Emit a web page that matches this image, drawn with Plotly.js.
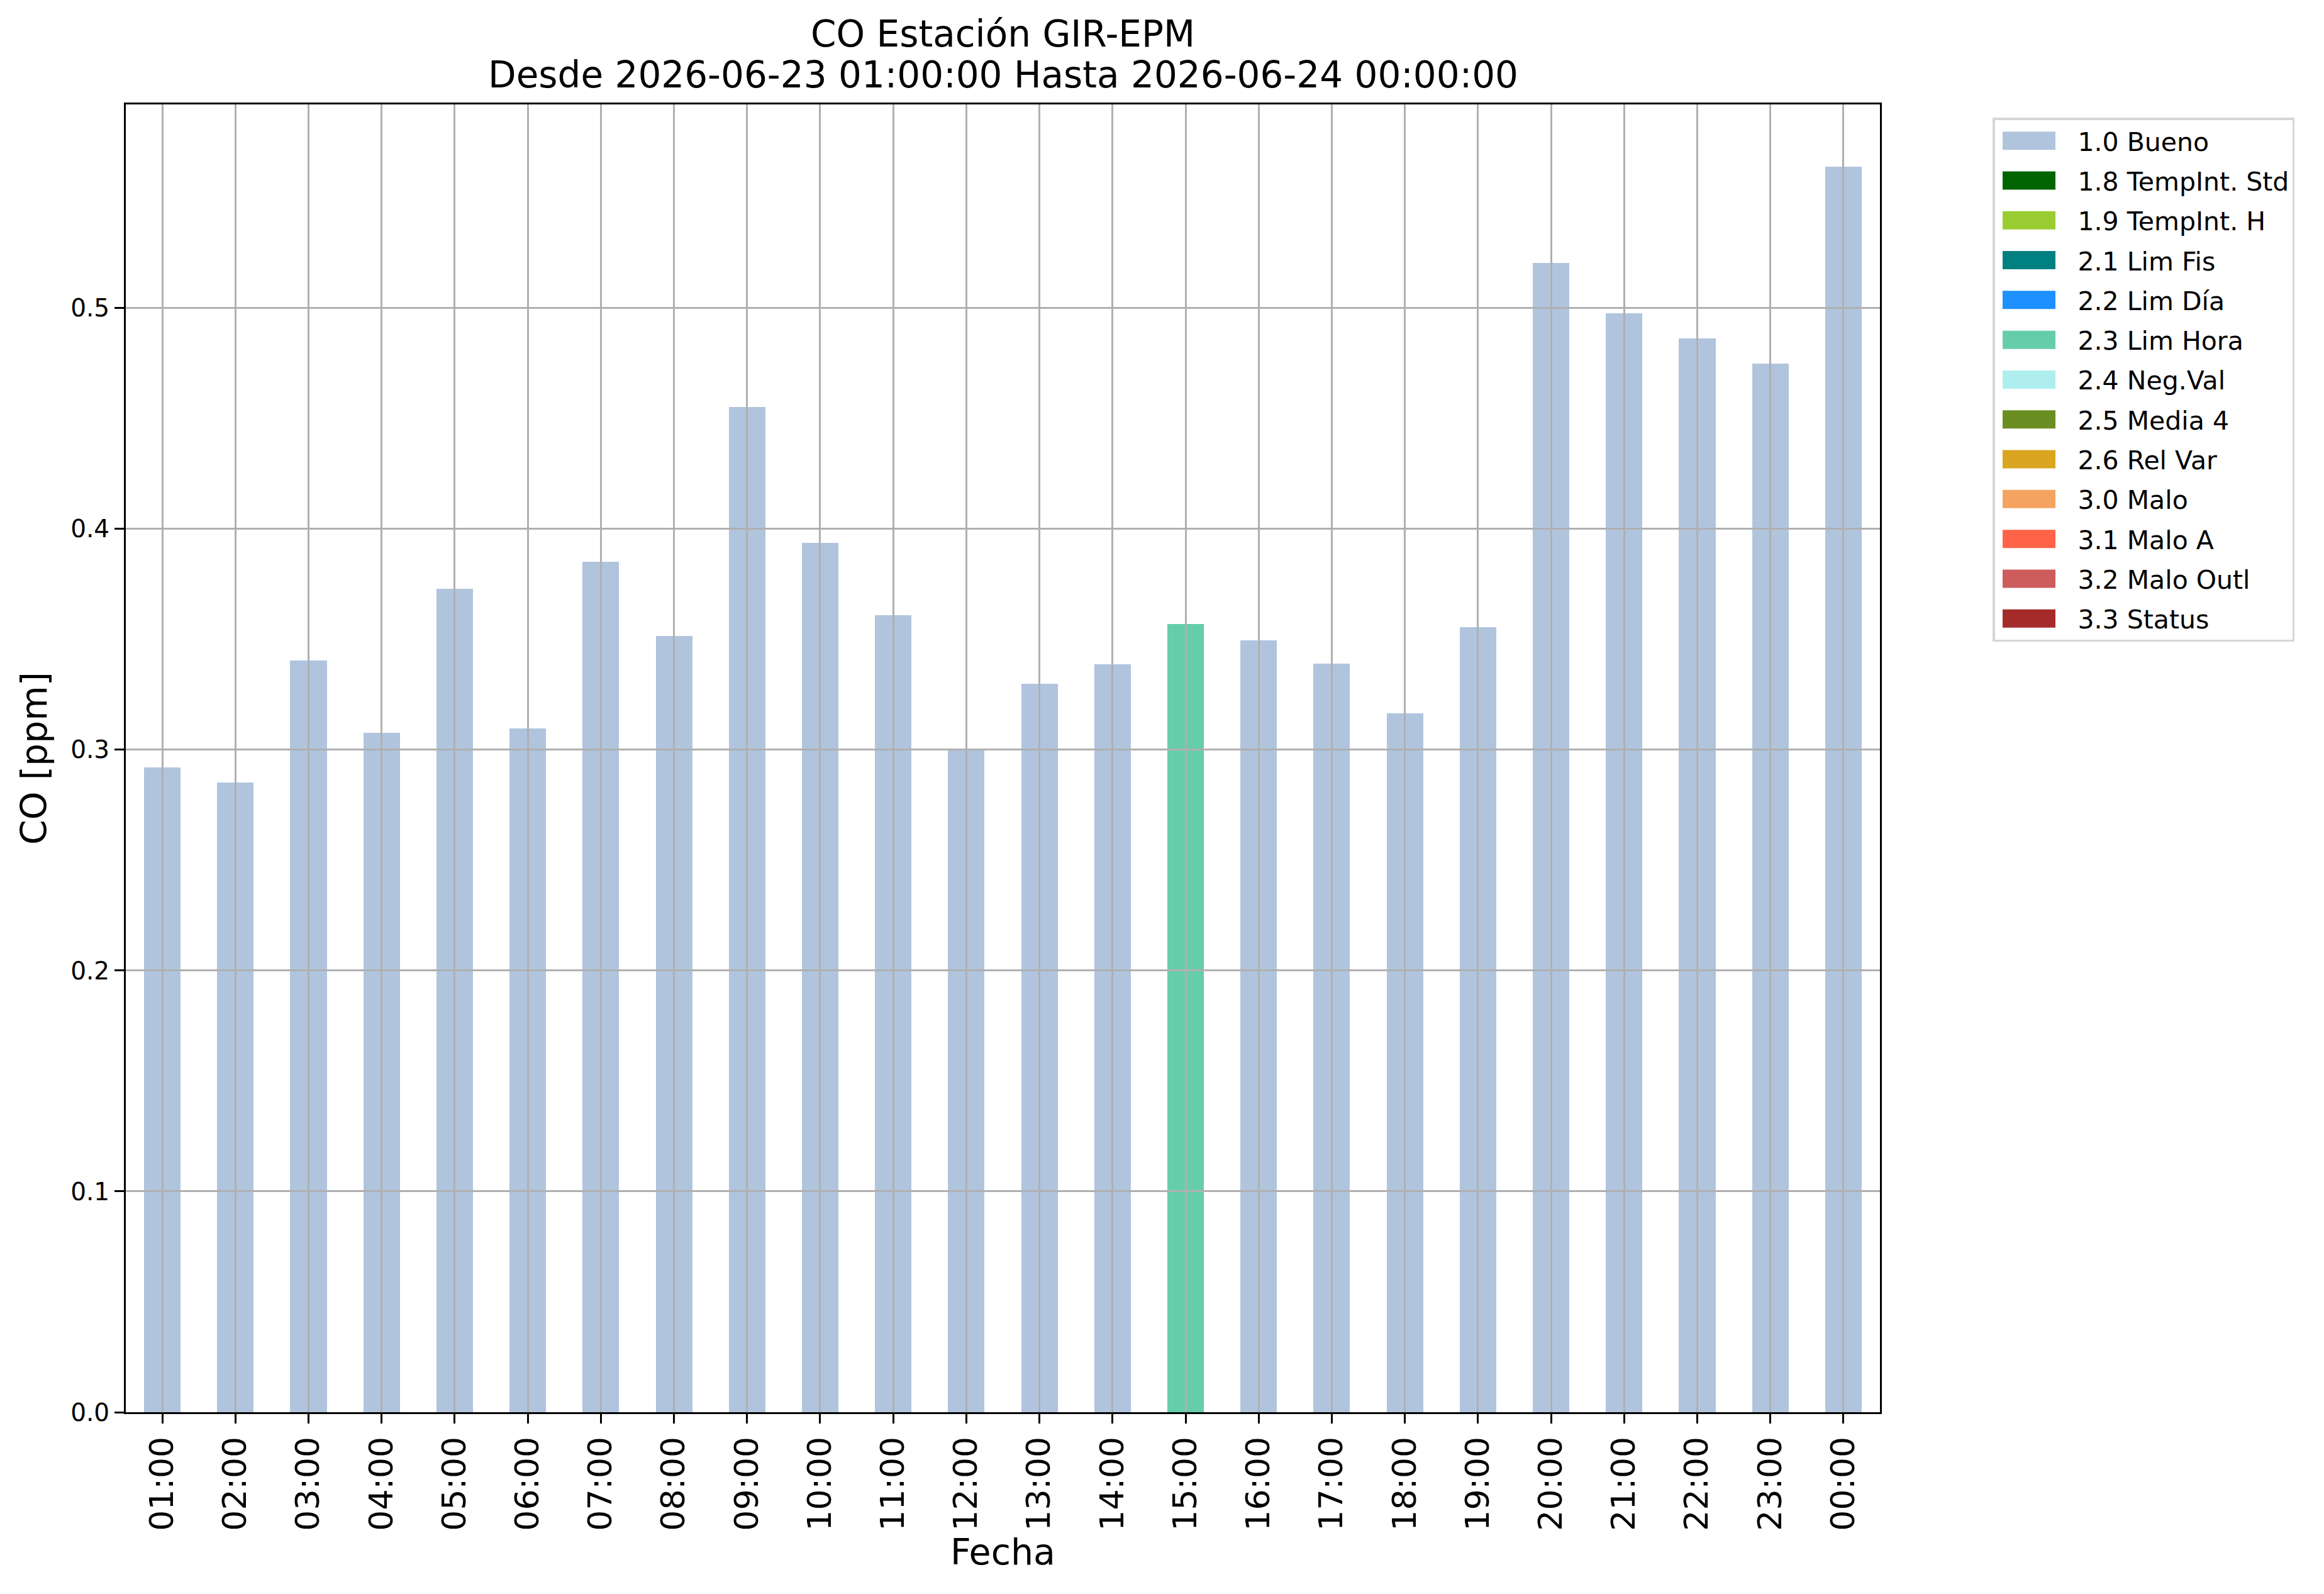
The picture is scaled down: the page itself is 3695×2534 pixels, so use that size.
<!DOCTYPE html>
<html>
<head>
<meta charset="utf-8">
<script src="https://cdn.plot.ly/plotly-3.0.1.min.js"></script>
<style>body { margin: 0; background: #fff; }</style>
</head>
<body>
<div id="co-plot" style="width:3695px;height:2534px"></div>
<script>
/* CO hourly means, GIR-EPM station, coloured by validation flag */
var horas = ['01:00', '02:00', '03:00', '04:00', '05:00', '06:00', '07:00', '08:00',
             '09:00', '10:00', '11:00', '12:00', '13:00', '14:00', '15:00', '16:00',
             '17:00', '18:00', '19:00', '20:00', '21:00', '22:00', '23:00', '00:00'];
var co = [0.292, 0.285, 0.3405, 0.3076, 0.3729, 0.3097, 0.3852, 0.3515,
          0.4553, 0.3937, 0.3609, 0.3005, 0.3299, 0.3387, 0.357, 0.3496,
          0.339, 0.3166, 0.3556, 0.5203, 0.4977, 0.4861, 0.4749, 0.564];
var banderas = [1.0, 1.0, 1.0, 1.0, 1.0, 1.0, 1.0, 1.0, 1.0, 1.0, 1.0, 1.0,
                1.0, 1.0, 2.3, 1.0, 1.0, 1.0, 1.0, 1.0, 1.0, 1.0, 1.0, 1.0];

var codigos = [1.0, 1.8, 1.9, 2.1, 2.2, 2.3, 2.4, 2.5, 2.6, 3.0, 3.1, 3.2, 3.3];
var nombres = ['1.0 Bueno', '1.8 TempInt. Std', '1.9 TempInt. H', '2.1 Lim Fis',
               '2.2 Lim Día', '2.3 Lim Hora', '2.4 Neg.Val', '2.5 Media 4',
               '2.6 Rel Var', '3.0 Malo', '3.1 Malo A', '3.2 Malo Outl', '3.3 Status'];
var colores = ['#b0c4de', '#006400', '#9acd32', '#008080', '#1e90ff', '#66cdaa',
               '#afeeee', '#6b8e23', '#daa520', '#f4a460', '#ff6347', '#cd5c5c', '#a52a2a'];

var FONT = 'DejaVu Sans, sans-serif';
var ymax = Math.max.apply(null, co) * 1.05;

var data = [];
for (var k = 0; k < codigos.length; k++) {
    var ys = [];
    for (var i = 0; i < co.length; i++)
        ys.push(banderas[i] === codigos[k] ? co[i] : 0);
    data.push({
        type: 'bar',
        x: horas,
        y: ys,
        name: nombres[k],
        legendgroup: 'g' + k,
        width: 0.5,
        marker: { color: colores[k], line: { width: 0 } },
        hovertemplate: '%{x}<br>%{y:.3f} ppm<extra>' + nombres[k] + '</extra>'
    });
}

// empty trace so the grid-only subplot (drawn above the bars) exists
data.push({ type: 'scatter', x: [], y: [], xaxis: 'x2', yaxis: 'y2',
            showlegend: false, hoverinfo: 'skip' });

var idx = horas.map(function (h, i) { return i; });
var gridColor = '#b0b0b0';

var layout = {
    width: 3695,
    height: 2534,
    margin: { l: 200, r: 706, t: 166, b: 289 },
    paper_bgcolor: '#ffffff',
    plot_bgcolor: 'rgba(0,0,0,0)',
    font: { family: FONT, color: '#000000' },
    barmode: 'stack',
    showlegend: true,
    title: {
        text: 'CO Estación GIR-EPM',
        font: { family: FONT, size: 58, color: '#000' },
        x: 0.5, xref: 'paper', xanchor: 'center',
        y: 1 - 54 / 2534, yref: 'container', yanchor: 'middle'
    },
    annotations: [{
        text: 'Desde 2026-06-23 01:00:00 Hasta 2026-06-24 00:00:00',
        font: { family: FONT, size: 58, color: '#000' },
        xref: 'paper', yref: 'paper', x: 0.5, y: (2245 - 119) / 2079,
        xanchor: 'center', yanchor: 'middle', showarrow: false
    }],
    xaxis: {
        type: 'category',
        range: [-0.5, 23.5],
        showgrid: false,
        zeroline: false,
        showline: true, mirror: true, linecolor: '#000', linewidth: 3,
        ticks: 'outside', ticklen: 15, tickwidth: 3, tickcolor: '#000',
        tickangle: -90,
        tickfont: { family: FONT, size: 52, color: '#000' },
        title: { text: 'Fecha', font: { family: FONT, size: 57, color: '#000' }, standoff: 8 },
        automargin: false
    },
    yaxis: {
        range: [0, ymax],
        dtick: 0.1,
        tickformat: '.1f',
        showgrid: false,
        zeroline: false,
        showline: true, mirror: true, linecolor: '#000', linewidth: 3,
        ticks: 'outside', ticklen: 15, tickwidth: 3, tickcolor: '#000',
        tickfont: { family: FONT, size: 39, color: '#000' },
        title: { text: 'CO [ppm]', font: { family: FONT, size: 57, color: '#000' }, standoff: 20 },
        automargin: false
    },
    xaxis2: {
        anchor: 'y2', domain: [0, 1],
        range: [-0.5, 23.5],
        tickvals: idx,
        showticklabels: false, ticks: '',
        showgrid: true, gridcolor: gridColor, gridwidth: 2.5,
        zeroline: false, showline: true, mirror: true, linecolor: '#000', linewidth: 3,
        fixedrange: true
    },
    yaxis2: {
        anchor: 'x2', domain: [0, 1],
        range: [0, ymax],
        dtick: 0.1,
        showticklabels: false, ticks: '',
        showgrid: true, gridcolor: gridColor, gridwidth: 2.5,
        zeroline: false, showline: true, mirror: true, linecolor: '#000', linewidth: 3,
        fixedrange: true
    },
    legend: {
        x: (3168 - 200) / 2789, xanchor: 'left',
        y: (2245 - 187) / 2079, yanchor: 'top',
        xref: 'paper', yref: 'paper',
        bgcolor: '#ffffff',
        bordercolor: '#d6d6d6', borderwidth: 3.5,
        font: { family: FONT, size: 41, color: '#000' },
        traceorder: 'grouped',
        tracegroupgap: 7,
        itemwidth: 122
    }
};

var coPlot = document.getElementById('co-plot');
Plotly.newPlot(coPlot, data, layout, { displayModeBar: false }).then(function () {
    /* matplotlib-style wide legend patches */
    var pts = coPlot.querySelectorAll('.legend .legendpoints path');
    pts.forEach(function (p) { p.setAttribute('d', 'M30.5,14.5H-53.5V-14.5H30.5Z'); });
});
</script>
</body>
</html>
